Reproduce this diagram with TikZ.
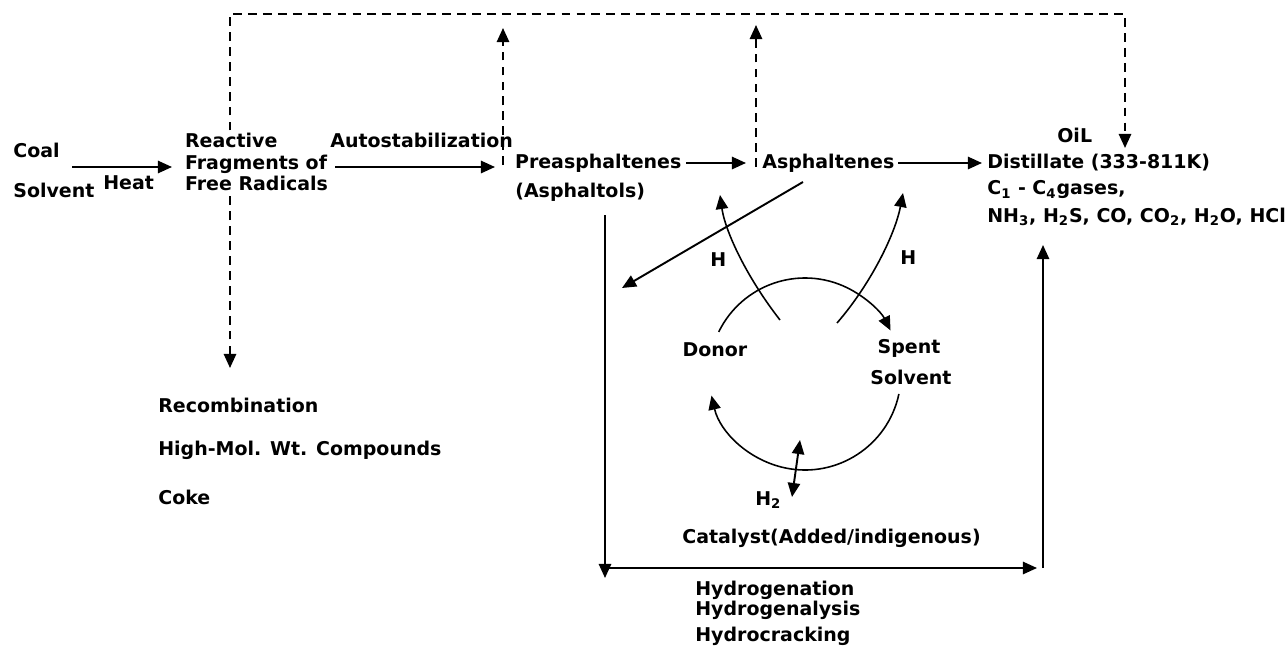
\documentclass[tikz,border=0pt]{standalone}
\usepackage{fontspec}
\setmainfont{DejaVu Sans}
\usetikzlibrary{arrows.meta,calc}
\begin{document}
\begin{tikzpicture}[x=0.02cm,y=-0.02cm,
  txt/.style={font=\bfseries\fontsize{10.8}{12}\selectfont, inner sep=0pt, anchor=west},
  ln/.style={line width=1.1pt, -{Triangle[length=8pt,width=7pt]}},
  dl/.style={line width=1.1pt, dash pattern=on 5pt off 3.5pt},
  tip/.style={-{Triangle[length=8pt,width=7pt]}}]
\useasboundingbox (0,0) rectangle (1288,659);
% dashed lines
\draw[dl, {Triangle[length=8pt,width=7pt]}-{Triangle[length=8pt,width=7pt]}] (230,368) -- (230,14) -- (1125,14) -- (1125,148);
\draw[dl, tip] (503,165) -- (503,28);
\draw[dl, tip] (756,167) -- (756,25);
% texts
\node[txt] (coal) at (13,150) {Coal};
\node[txt] (solv) at (13,190) {Solvent};
\node[txt] (heat) at (103,183) {Heat};
\node[txt, align=left, fill=white, inner sep=1pt] (react) at (183,162) {Reactive\\Fragments of\\Free Radicals};
\node[txt] (auto) at (330,140) {Autostabilization};
\node[txt, fill=white, inner sep=1pt] (pre) at (513,163) {Preasphaltenes};
\node[txt] (asphol) at (515,192) {(Asphaltols)};
\node[txt] (asph) at (762,163) {Asphaltenes};
\node[txt] (oil) at (1057,135) {OiL};
\node[txt] (dist) at (987,163) {Distillate (333-811K)};
\node[txt] (gas) at (987,190) {C\textsubscript{1} - C\textsubscript{4}gases,};
\node[txt] (nh) at (987,217) {NH\textsubscript{3}, H\textsubscript{2}S, CO, CO\textsubscript{2}, H\textsubscript{2}O, HCl};
\node[txt] (rec) at (158,405) {Recombination};
\node[txt] (hmw) at (158,450) {High-Mol. Wt. Compounds};
\node[txt] (coke) at (158,497) {Coke};
\node[txt] (hl) at (710,260) {H};
\node[txt] (hr) at (900,258) {H};
\node[txt, anchor=center] (donor) at (715,350) {Donor};
\node[txt, anchor=center] (spent) at (909,348) {Spent};
\node[txt, anchor=center] (spent2) at (911,377) {Solvent};
\node[txt] (h2) at (755,500) {H\textsubscript{2}};
\node[txt] (cat) at (682,538) {Catalyst(Added/indigenous)};
\node[txt] (hyd1) at (695,590) {Hydrogenation};
\node[txt] (hyd2) at (695,610) {Hydrogenalysis};
\node[txt] (hyd3) at (695,636) {Hydrocracking};
% coordinates
\coordinate (a1) at (72,167); \coordinate (a2) at (172,167);
\coordinate (b1) at (335,167); \coordinate (b2) at (495,167);
\coordinate (c1) at (686,163); \coordinate (c2) at (746,163);
\coordinate (d1) at (898,163); \coordinate (d2) at (982,163);
\coordinate (e1) at (605,215); \coordinate (e2) at (605,578);
\coordinate (f1) at (608,568); \coordinate (f2) at (1037,568);
\coordinate (g1) at (1043,568); \coordinate (g2) at (1043,245);
\coordinate (k1) at (803,182); \coordinate (k2) at (622,288);
\coordinate (cc) at (805,374);
% solid arrows
\draw[ln] (a1) -- (a2);
\draw[ln] (b1) -- (b2);
\draw[ln] (c1) -- (c2);
\draw[ln] (d1) -- (d2);
\draw[ln] (e1) -- (e2);
\draw[ln] (f1) -- (f2);
\draw[ln] (g1) -- (g2);
\draw[ln] (k1) -- (k2);
\draw[ln, line width=0.9pt] (780,320) .. controls (745,275) and (725,230) .. (720,195);
\draw[ln, line width=0.9pt] (837,323) .. controls (870,285) and (895,235) .. (903,193);
\draw[ln, line width=0.9pt] ($(cc)+(-154:96)$) arc[start angle=-154, end angle=-27, radius=96];
\draw[ln, line width=0.9pt] ($(cc)+(12:96)$) arc[start angle=12, end angle=167, radius=96];
\draw[line width=1.1pt, {Triangle[length=8pt,width=7pt]}-{Triangle[length=8pt,width=7pt]}] (800,440) -- (792,497);
\end{tikzpicture}
\end{document}
